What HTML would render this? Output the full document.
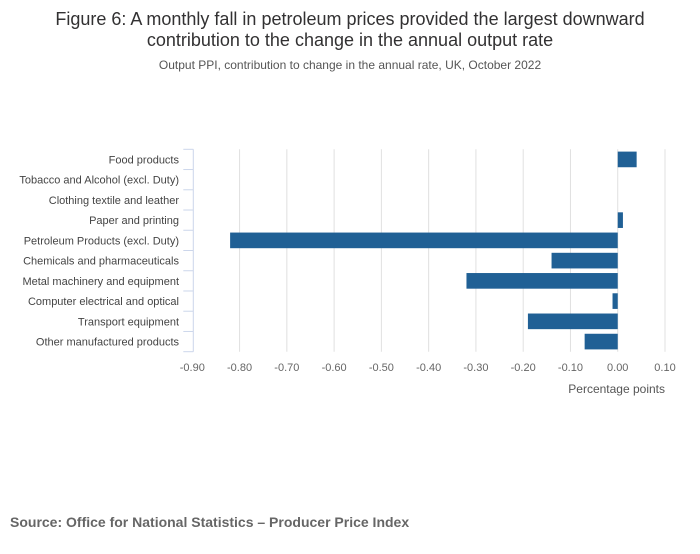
<!DOCTYPE html>
<html><head><meta charset="utf-8"><style>
body{margin:0;background:#fff;font-family:"Liberation Sans","DejaVu Sans",sans-serif;}
svg text{font-family:"Liberation Sans","DejaVu Sans",sans-serif;}
</style></head><body>
<svg id="chart" width="700" height="549" xmlns="http://www.w3.org/2000/svg">
<text x="350" y="25" text-anchor="middle" font-size="18" fill="#323132">Figure 6: A monthly fall in petroleum prices provided the largest downward</text>
<text x="350" y="46" text-anchor="middle" font-size="18" fill="#323132">contribution to the change in the annual output rate</text>
<text x="350" y="69" text-anchor="middle" font-size="12" fill="#555">Output PPI, contribution to change in the annual rate, UK, October 2022</text>
<g id="grid"></g><g id="bars"></g><g id="ylabels"></g><g id="xlabels"></g>
<text x="665" y="393" text-anchor="end" font-size="12" fill="#555">Percentage points</text>
<text x="10" y="527" font-size="14" font-weight="bold" fill="#666">Source: Office for National Statistics – Producer Price Index</text>
</svg>
<script>
const categories=["Food products","Tobacco and Alcohol (excl. Duty)","Clothing textile and leather","Paper and printing","Petroleum Products (excl. Duty)","Chemicals and pharmaceuticals","Metal machinery and equipment","Computer electrical and optical","Transport equipment","Other manufactured products"];
const values=[0.04,0,0,0.011,-0.82,-0.14,-0.32,-0.011,-0.19,-0.07];
const xTicks=[-0.9,-0.8,-0.7,-0.6,-0.5,-0.4,-0.3,-0.2,-0.1,0,0.1];
const NS="http://www.w3.org/2000/svg";
const x0=192.3,x1=665,xmin=-0.9,xmax=0.1,plotTop=149.3,plotBottom=351.7;
const band=(plotBottom-plotTop)/categories.length;
function xs(v){return x0+(v-xmin)/(xmax-xmin)*(x1-x0);}
function ys(i){return plotTop+i*band;}
function mk(tag,attrs,parent){const e=document.createElementNS(NS,tag);for(const k in attrs)e.setAttribute(k,attrs[k]);document.getElementById(parent).appendChild(e);return e;}
xTicks.forEach((t,i)=>{
  if(i>0){const l=mk("line",{x1:xs(t),x2:xs(t),y1:plotTop,y2:plotBottom,stroke:"#e0e0e0","stroke-width":1},"grid");
  
  }
  const tx=mk("text",{x:xs(t),y:371,"text-anchor":"middle","font-size":11,fill:"#666"},"xlabels");
  tx.textContent=t.toFixed(2);
  
  
});
const ax=mk("line",{x1:x0+1,x2:x0+1,y1:plotTop,y2:plotBottom,stroke:"#ccd6eb","stroke-width":1},"grid");


for(let i=0;i<=categories.length;i++){
  const tk=mk("line",{x1:x0-9,x2:x0+1,y1:ys(i),y2:ys(i),stroke:"#ccd6eb","stroke-width":1},"grid");
  
  
}
categories.forEach((c,i)=>{
  const v=values[i];
  const a=Math.min(xs(0),xs(v)),w=Math.abs(xs(v)-xs(0));
  const r=mk("rect",{x:a,y:ys(i)+2.3,width:w,height:band-4.6,fill:"#206095"},"bars");
  
  
  const t=mk("text",{x:179,y:ys(i)+band/2+4,"text-anchor":"end","font-size":11,fill:"#444"},"ylabels");
  t.textContent=c;
  
  
});
</script>
</body></html>
